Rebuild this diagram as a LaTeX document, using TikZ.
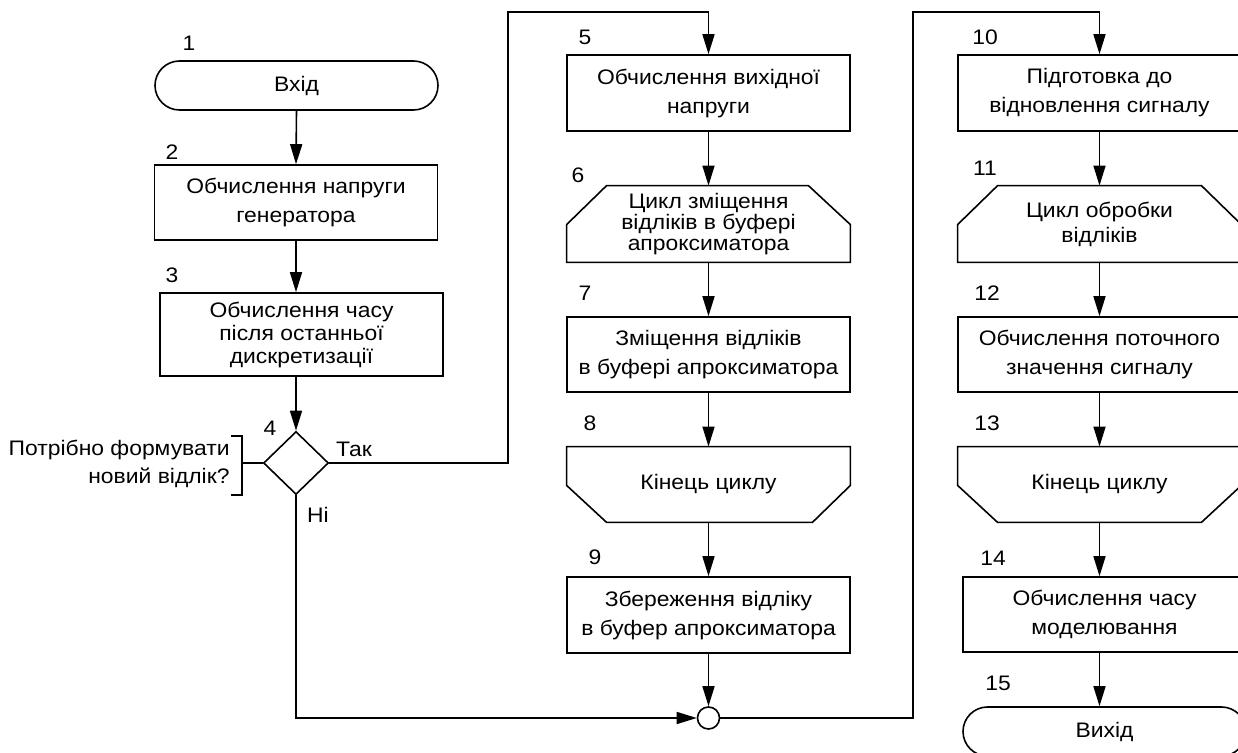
\documentclass[tikz,border=0pt]{standalone}
\usepackage{fontspec}
\setmainfont{Liberation Sans}[FakeStretch=1.09]
\usetikzlibrary{arrows.meta,shapes.geometric,shapes.misc}

\begin{document}
\begin{tikzpicture}[x=0.5pt,y=-0.5pt,
  every node/.style={font=\fontsize{10.5}{14.5}\selectfont, inner sep=0pt},
  proc/.style={draw, rectangle, line width=0.8pt, minimum width=141.5pt, minimum height=38pt, align=center},
  term/.style={draw, rounded rectangle, rounded rectangle arc length=180, line width=0.8pt,
               minimum width=141.5pt, minimum height=24.5pt, align=center},
  loopbox/.style={rectangle, minimum width=141.5pt, minimum height=38pt, align=center},
  decision/.style={draw, diamond, line width=0.8pt, minimum width=32.5pt, minimum height=31.5pt},
  joint/.style={draw, circle, line width=0.8pt, minimum size=11pt},
  num/.style={font=\fontsize{10.5}{12}\selectfont},
  link/.style={line width=0.8pt},
  flow/.style={line width=0.8pt, -{Triangle[length=10pt,width=6pt]}},
  tight/.style={font=\fontsize{10.5}{11.5}\selectfont}
]
\useasboundingbox (0,0) rectangle (1238,753);

% ---------- column 1 ----------
\node[term] (n1) at (296.5,85.5) {Вхід};
\node[proc, minimum height=37.5pt] (n2) at (296,202.5) {Обчислення напруги\\генератора};
\node[proc, minimum height=41.5pt, tight] (n3) at (301.5,334.5) {Обчислення часу\\після останньої\\дискретизації};
\node[decision] (n4) at (296,463) {};

\node[num] (l1) at (189,43) {1};
\node[num] (l2) at (172,152) {2};
\node[num] (l3) at (172,275) {3};
\node[num] (l4) at (270,428) {4};

\node[anchor=east, align=right, font=\fontsize{10.5}{14}\selectfont] (ann) at (230,464)
  {Потрібно формувати\\новий відлік?};
\coordinate (br) at (242,463);
\draw[link] (231,436) -- (242,436) -- (242,495) -- (231,495);
\draw[link] (br) -- (n4.west);

\node (yes) at (354,449) {Так};
\node (no) at (318,515) {Ні};

% ---------- column 2 ----------
\node[proc] (n5) at (708.5,93) {Обчислення вихідної\\напруги};
\node[loopbox, font=\fontsize{10.5}{10.5}\selectfont] (n6) at (708.5,224) {Цикл зміщення\\відліків в буфері\\апроксиматора};
\node[proc, minimum height=37.5pt] (n7) at (708.5,354.5) {Зміщення відліків\\в буфері апроксиматора};
\node[loopbox, minimum height=37.5pt] (n8) at (708.5,484.5) {Кінець циклу};
\node[proc] (n9) at (708.5,615) {Збереження відліку\\в буфер апроксиматора};
\node[joint] (c) at (708.5,718) {};

\node[num] (l5) at (585,37) {5};
\node[num] (l6) at (578,175) {6};
\node[num] (l7) at (585,293) {7};
\node[num] (l8) at (590,423) {8};
\node[num] (l9) at (595,557) {9};

% loop start / loop end outlines
\draw[link] (n6.south west) -- ([yshift=-19.5pt]n6.north west) -- ([xshift=20pt]n6.north west)
  -- ([xshift=-21pt]n6.north east) -- ([yshift=-19.5pt]n6.north east) -- (n6.south east) -- cycle;
\draw[link] (n8.north west) -- ([yshift=18.5pt]n8.south west) -- ([xshift=20pt]n8.south west)
  -- ([xshift=-19pt]n8.south east) -- ([yshift=18.5pt]n8.south east) -- (n8.north east) -- cycle;

% ---------- column 3 ----------
\node[proc] (n10) at (1099.5,93) {Підготовка до\\відновлення сигналу};
\node[loopbox, font=\fontsize{10.5}{12.5}\selectfont] (n11) at (1099.5,224) {Цикл обробки\\відліків};
\node[proc, minimum height=37.5pt] (n12) at (1099.5,354.5) {Обчислення поточного\\значення сигналу};
\node[loopbox, minimum height=37.5pt] (n13) at (1099.5,484.5) {Кінець циклу};
\node[proc, minimum height=37.5pt] (n14) at (1104.5,614.5) {Обчислення часу\\моделювання};
\node[term] (n15) at (1104.5,731.5) {Вихід};

\node[num] (l10) at (985,37) {10};
\node[num] (l11) at (985,168) {11};
\node[num] (l12) at (987,293) {12};
\node[num] (l13) at (987,423) {13};
\node[num] (l14) at (993,558) {14};
\node[num] (l15) at (998,683) {15};

\draw[link] (n11.south west) -- ([yshift=-19.5pt]n11.north west) -- ([xshift=20pt]n11.north west)
  -- ([xshift=-20pt]n11.north east) -- ([yshift=-19.5pt]n11.north east) -- (n11.south east) -- cycle;
\draw[link] (n13.north west) -- ([yshift=18.5pt]n13.south west) -- ([xshift=20pt]n13.south west)
  -- ([xshift=-20pt]n13.south east) -- ([yshift=18.5pt]n13.south east) -- (n13.north east) -- cycle;

% ---------- connectors ----------
\draw[flow] (n1.south) -- (n2.north);
\draw[flow] (n2.south) -- (n2.south |- n3.north);
\draw[flow] (n4.north |- n3.south) -- (n4.north);

\coordinate (j1) at (508,12);
\draw[flow] (n4.east) -| (j1) -| (n5.north);
\draw[flow] (n4.south) |- (c.west);

\draw[flow] (n5.south) -- (n6.north);
\draw[flow] (n6.south) -- (n7.north);
\draw[flow] (n7.south) -- (n8.north);
\draw[flow] (n8.south) -- (n9.north);
\draw[flow] (n9.south) -- (c.north);

\coordinate (j2) at (913,12);
\draw[flow] (c.east) -| (j2) -| (n10.north);

\draw[flow] (n10.south) -- (n11.north);
\draw[flow] (n11.south) -- (n12.north);
\draw[flow] (n12.south) -- (n13.north);
\draw[flow] (n13.south) -- (n13.south |- n14.north);
\draw[flow] (n14.south -| n13.south) -- (n13.south |- n15.north);
\end{tikzpicture}
\end{document}
